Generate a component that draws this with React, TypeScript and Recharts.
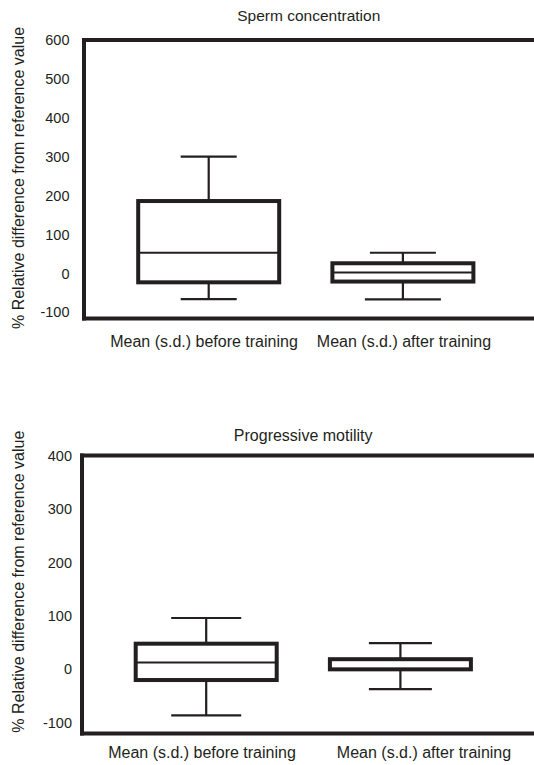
import React from 'react';
import { ComposedChart, Bar, Scatter, XAxis, YAxis, ReferenceLine } from 'recharts';

// ---------- data ----------
const categories = ['Mean (s.d.) before training', 'Mean (s.d.) after training'];

const concentrationMin = [-66, -67];
const concentrationQ1 = [-23, -21];
const concentrationMedian = [53, 2];
const concentrationQ3 = [186, 26];
const concentrationMax = [300, 53];
const concentrationTicks = [-100, 0, 100, 200, 300, 400, 500, 600];

const motilityMin = [-86, -37];
const motilityQ1 = [-20, 0];
const motilityMedian = [13, 0];
const motilityQ3 = [48, 19];
const motilityMax = [96, 49];
const motilityTicks = [-100, 0, 100, 200, 300, 400];

const yAxisTitle = '% Relative difference from reference value';

// ---------- style ----------
const SHIFT = 200; // keeps every stacked segment positive
const INK = '#231f20';
const FONT = '"Liberation Sans", Arial, Helvetica, sans-serif';
const BOX_W = 141;

function buildRows(min: number[], q1: number[], median: number[], q3: number[], max: number[]) {
  return categories.map((name, i) => ({
    name,
    base: min[i] + SHIFT,
    lowWhisker: q1[i] - min[i],
    box: q3[i] - q1[i],
    highWhisker: max[i] - q3[i],
    median: median[i] + SHIFT,
  }));
}

const idxOf = (p: any) => {
  const n = p?.payload?.name ?? p?.name;
  const i = categories.indexOf(n);
  return i >= 0 ? i : p.index ?? 0;
};

const Empty = () => <g />;

const makeLowWhisker = (caps: number[]) => (p: any) => {
  const { x, y, width, height } = p;
  const cx = x + width / 2;
  const w = caps[idxOf(p)];
  return (
    <g>
      <line x1={cx} x2={cx} y1={y} y2={y + height} stroke={INK} strokeWidth={2.2} />
      <line x1={cx - w / 2} x2={cx + w / 2} y1={y + height} y2={y + height} stroke={INK} strokeWidth={2.2} />
    </g>
  );
};

const makeHighWhisker = (caps: number[]) => (p: any) => {
  const { x, y, width, height } = p;
  const cx = x + width / 2;
  const w = caps[idxOf(p)];
  return (
    <g>
      <line x1={cx} x2={cx} y1={y} y2={y + height} stroke={INK} strokeWidth={2.2} />
      <line x1={cx - w / 2} x2={cx + w / 2} y1={y} y2={y} stroke={INK} strokeWidth={2.2} />
    </g>
  );
};

const BoxShape = (p: any) => {
  const { x, y, width, height } = p;
  return <rect x={x} y={y} width={width} height={height} fill="#fff" stroke={INK} strokeWidth={4} />;
};

const MedianShape = (p: any) => {
  const { cx, cy } = p;
  return <line x1={cx - BOX_W / 2} x2={cx + BOX_W / 2} y1={cy} y2={cy} stroke={INK} strokeWidth={2} />;
};

const AxisTitle = ({ px, py }: any) => (
  <text
    x={px}
    y={py}
    transform={`rotate(-90 ${px} ${py})`}
    textAnchor="middle"
    fontSize={16}
    fontFamily={FONT}
    fill={INK}
  >
    {yAxisTitle}
  </text>
);

const makeXTick = (offsets: number[], dy: number) => (p: any) => {
  const { x, y, payload, index } = p;
  const i = categories.indexOf(payload?.value);
  const k = i >= 0 ? i : index;
  return (
    <text x={x + offsets[k]} y={y + dy} textAnchor="middle" fontSize={16} fontFamily={FONT} fill={INK}>
      {payload?.value}
    </text>
  );
};

type PanelProps = {
  rows: any[];
  ticks: number[];
  domain: [number, number];
  height: number;
  marginTop: number;
  yAxisWidth: number;
  xAxisHeight: number;
  padding: { left: number; right: number };
  tickMargin: number;
  capsLow: number[];
  capsHigh: number[];
  labelOffsets: number[];
  labelDy: number;
  titleY: number;
};

const Panel = (props: PanelProps) => {
  const {
    rows, ticks, domain, height, marginTop, yAxisWidth, xAxisHeight, padding,
    tickMargin, capsLow, capsHigh, labelOffsets, labelDy, titleY,
  } = props;
  const lo = domain[0] + SHIFT;
  const hi = domain[1] + SHIFT;
  return (
    <ComposedChart
      width={534}
      height={height}
      data={rows}
      margin={{ top: marginTop, right: 0, left: 0, bottom: 0 }}
      barSize={BOX_W}
    >
      <XAxis
        dataKey="name"
        type="category"
        height={xAxisHeight}
        padding={padding}
        axisLine={{ stroke: INK, strokeWidth: 4, strokeLinecap: 'square' }}
        tickLine={false}
        tickSize={0}
        tickMargin={0}
        interval={0}
        tick={makeXTick(labelOffsets, labelDy)}
      />
      <YAxis
        type="number"
        domain={[lo, hi]}
        allowDataOverflow
        ticks={ticks.map((t) => t + SHIFT)}
        interval={0}
        tickFormatter={(v: number) => String(v - SHIFT)}
        width={yAxisWidth}
        axisLine={{ stroke: INK, strokeWidth: 4, strokeLinecap: 'square' }}
        tickLine={false}
        tickSize={0}
        tickMargin={tickMargin}
        tick={{ fill: INK, fontSize: 14.5, fontFamily: FONT }}
        label={<AxisTitle px={24} py={titleY} />}
      />
      <ReferenceLine y={hi} stroke={INK} strokeWidth={4} strokeLinecap="square" ifOverflow="extendDomain" />
      <Bar dataKey="base" stackId="b" shape={<Empty />} isAnimationActive={false} />
      <Bar dataKey="lowWhisker" stackId="b" shape={makeLowWhisker(capsLow)} isAnimationActive={false} />
      <Bar dataKey="box" stackId="b" shape={BoxShape} isAnimationActive={false} />
      <Bar dataKey="highWhisker" stackId="b" shape={makeHighWhisker(capsHigh)} isAnimationActive={false} />
      <Scatter dataKey="median" shape={MedianShape} isAnimationActive={false} />
    </ComposedChart>
  );
};

const titleStyle = (center: number, top: number, size: number): React.CSSProperties => ({
  position: 'absolute',
  left: center - 150,
  width: 300,
  top,
  textAlign: 'center',
  fontFamily: FONT,
  fontSize: size,
  lineHeight: '18px',
  color: INK,
  whiteSpace: 'nowrap',
});

export default function App() {
  const concRows = buildRows(concentrationMin, concentrationQ1, concentrationMedian, concentrationQ3, concentrationMax);
  const motRows = buildRows(motilityMin, motilityQ1, motilityMedian, motilityQ3, motilityMax);
  return (
    <div style={{ position: 'absolute', left: 0, top: 0, width: 534, height: 765, overflow: 'hidden', background: '#fff' }}>
      <div style={{ position: 'absolute', left: 0, top: 0 }}>
        <Panel
          rows={concRows}
          ticks={concentrationTicks}
          domain={[-116, 600]}
          height={360}
          marginTop={40}
          yAxisWidth={84}
          xAxisHeight={41.5}
          padding={{ left: 27.2, right: 34.4 }}
          tickMargin={14.5}
          capsLow={[56, 76]}
          capsHigh={[56, 66]}
          labelOffsets={[-4.3, 1.5]}
          labelDy={28.2}
          titleY={178}
        />
      </div>
      <div style={titleStyle(308.8, 7, 15.5)}>Sperm concentration</div>
      <div style={{ position: 'absolute', left: 0, top: 400 }}>
        <Panel
          rows={motRows}
          ticks={motilityTicks}
          domain={[-120, 400]}
          height={365}
          marginTop={55.5}
          yAxisWidth={82}
          xAxisHeight={31.5}
          padding={{ left: 26.7, right: 36.9 }}
          tickMargin={10}
          capsLow={[70, 63]}
          capsHigh={[70, 63]}
          labelOffsets={[-3.8, 24]}
          labelDy={24.9}
          titleY={181.7}
        />
      </div>
      <div style={titleStyle(303.2, 427, 16)}>Progressive motility</div>
    </div>
  );
}
